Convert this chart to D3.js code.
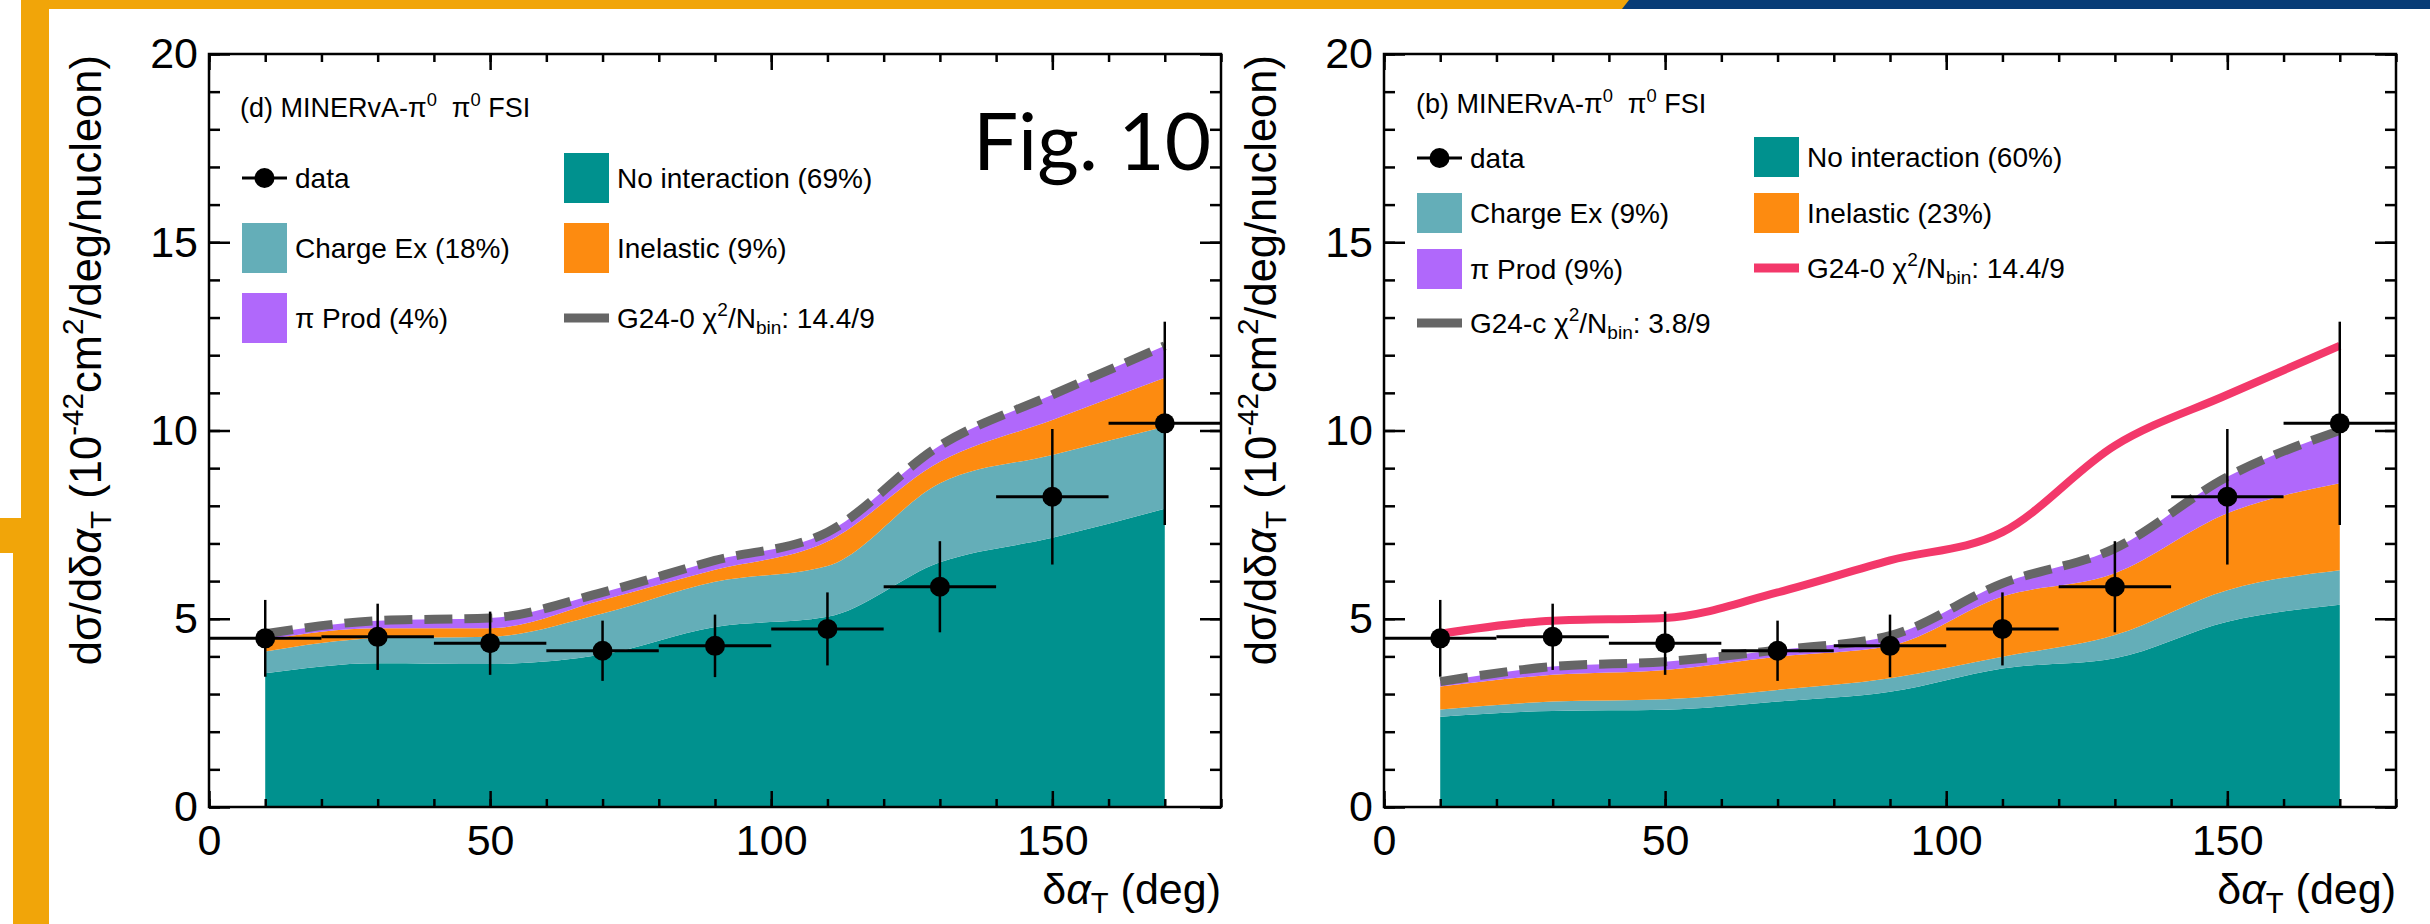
<!DOCTYPE html>
<html>
<head>
<meta charset="utf-8">
<script src="https://cdn.jsdelivr.net/npm/d3@7"></script>
<style>
  body { margin: 0; background: #fff; }
  svg text { font-family: "Liberation Sans", Arial, Helvetica, sans-serif; fill: #000; }
</style>
</head>
<body>
<div id="chart"></div>
<script>
(function() {"use strict";

    // ---- data ----
    var binCenters  = [10, 30, 50, 70, 90, 110, 130, 150, 170];
    var binHalf     = 10;
    var dataValues  = [4.48, 4.52, 4.35, 4.15, 4.28, 4.73, 5.85, 8.24, 10.19];
    var dataErrors  = [1.02, 0.88, 0.84, 0.80, 0.83, 0.97, 1.21, 1.80, 2.70];

    // G24-0 channels, panel (d)
    var g240NoInt    = [3.55, 3.82, 3.80, 4.05, 4.78, 5.05, 6.50, 7.15, 7.92];
    var g240ChargeEx = [0.58, 0.66, 0.72, 1.09, 1.20, 1.35, 2.10, 2.20, 2.18];
    var g240Inel     = [0.32, 0.27, 0.23, 0.36, 0.32, 0.65, 0.57, 0.93, 1.30];
    var g240PiProd   = [0.15, 0.20, 0.27, 0.20, 0.25, 0.25, 0.43, 0.67, 0.85];
    var g240Total    = [4.60, 4.95, 5.02, 5.70, 6.55, 7.30, 9.60, 10.95, 12.25];

    // G24-c channels, panel (b)
    var g24cNoInt    = [2.40, 2.55, 2.58, 2.80, 3.06, 3.68, 3.95, 4.92, 5.37];
    var g24cChargeEx = [0.19, 0.25, 0.28, 0.31, 0.36, 0.31, 0.62, 0.84, 0.92];
    var g24cInel     = [0.61, 0.71, 0.78, 0.88, 0.86, 1.60, 1.64, 2.04, 2.31];
    var g24cPiProd   = [0.13, 0.22, 0.22, 0.18, 0.27, 0.35, 0.66, 0.97, 1.40];
    var g24cTotal    = [3.33, 3.73, 3.86, 4.17, 4.55, 5.94, 6.87, 8.77, 10.00];

    var xMajorTicks = [0, 50, 100, 150];
    var yMajorTicks = [0, 5, 10, 15, 20];
    var xMinorTicks = d3.range(0, 181, 10);
    var yMinorTicks = d3.range(0, 21, 1);

    // colours
    var cNoInt = "#00918e", cChargeEx = "#64aeb8", cInel = "#fd8b10",
        cPiProd = "#b068fb", cGray = "#666666", cRed = "#f3386a";

    var W = 2430, H = 924;
    var svg = d3.select("#chart").append("svg")
        .attr("width", W).attr("height", H)
        .style("display", "block");

    svg.append("rect").attr("width", W).attr("height", H).attr("fill", "#fff");

    // slide decoration: top bar + left bar
    svg.append("rect").attr("x", 21).attr("y", 0).attr("width", 1610).attr("height", 9).attr("fill", "#f1a509");
    svg.append("polygon").attr("points", "1629,0 2430,0 2430,9 1622,9").attr("fill", "#083c76");
    svg.append("rect").attr("x", 21).attr("y", 0).attr("width", 28).attr("height", 518).attr("fill", "#f1a509");
    svg.append("rect").attr("x", 0).attr("y", 518).attr("width", 49).attr("height", 35).attr("fill", "#f1a509");
    svg.append("rect").attr("x", 13).attr("y", 553).attr("width", 36).attr("height", H - 553).attr("fill", "#f1a509");

    // rich text helper: parts = [[text, "sup"|"sub"|"it"|undefined], ...]
    function rich(sel, parts, size) {
        var shift = 0;
        parts.forEach(function(p) {
            var t = sel.append("tspan").text(p[0]);
            var target = 0;
            if (p[1] === "sup") { target = -0.42 * size; t.attr("font-size", size * 0.68); }
            else if (p[1] === "sub") { target = 0.22 * size; t.attr("font-size", size * 0.68); }
            else if (p[1] === "it") { t.attr("font-style", "italic"); }
            if (target !== shift) { t.attr("dy", target - shift); shift = target; }
        });
        return sel;
    }

    var panels = [
        {
            x0: 209, x1: 1221, ylabX: 101,
            comps: [g240NoInt, g240ChargeEx, g240Inel, g240PiProd],
            dashed: g240Total, red: null,
            titleTag: "(d)", titleX: 240, titleY: 117,
            boxH: 50,
            legend: [
                {type: "data", x: 242, y: 178, label: [["data"]]},
                {type: "box", fill: cNoInt, x: 564, y: 178, label: [["No interaction (69%)"]]},
                {type: "box", fill: cChargeEx, x: 242, y: 248, label: [["Charge Ex (18%)"]]},
                {type: "box", fill: cInel, x: 564, y: 248, label: [["Inelastic (9%)"]]},
                {type: "box", fill: cPiProd, x: 242, y: 318, label: [["π Prod (4%)"]]},
                {type: "line", stroke: cGray, x: 564, y: 318,
                    label: [["G24-0 χ"], ["2", "sup"], ["/N"], ["bin", "sub"], [": 14.4/9"]]}
            ]
        },
        {
            x0: 1384, x1: 2396, ylabX: 1276,
            comps: [g24cNoInt, g24cChargeEx, g24cInel, g24cPiProd],
            dashed: g24cTotal, red: g240Total,
            titleTag: "(b)", titleX: 1416, titleY: 113,
            boxH: 40,
            legend: [
                {type: "data", x: 1417, y: 158, label: [["data"]]},
                {type: "box", fill: cNoInt, x: 1754, y: 157, label: [["No interaction (60%)"]]},
                {type: "box", fill: cChargeEx, x: 1417, y: 213, label: [["Charge Ex (9%)"]]},
                {type: "box", fill: cInel, x: 1754, y: 213, label: [["Inelastic (23%)"]]},
                {type: "box", fill: cPiProd, x: 1417, y: 269, label: [["π Prod (9%)"]]},
                {type: "line", stroke: cRed, x: 1754, y: 268,
                    label: [["G24-0 χ"], ["2", "sup"], ["/N"], ["bin", "sub"], [": 14.4/9"]]},
                {type: "line", stroke: cGray, x: 1417, y: 323,
                    label: [["G24-c χ"], ["2", "sup"], ["/N"], ["bin", "sub"], [": 3.8/9"]]}
            ]
        }
    ];

    var yTop = 54, yBot = 807;
    var keys = ["noInt", "chargeEx", "inel", "piProd"];
    var fills = [cNoInt, cChargeEx, cInel, cPiProd];

    panels.forEach(function(p) {
        var x = d3.scaleLinear().domain([0, 180]).range([p.x0, p.x1]);
        var y = d3.scaleLinear().domain([0, 20]).range([yBot, yTop]);
        var g = svg.append("g");

        // stacked channels
        var rows = binCenters.map(function(c, i) {
            var r = {x: c};
            keys.forEach(function(k, j) { r[k] = p.comps[j][i]; });
            return r;
        });
        var series = d3.stack().keys(keys)(rows);
        var area = d3.area()
            .x(function(d) { return x(d.data.x); })
            .y0(function(d) { return y(d[0]); })
            .y1(function(d) { return y(d[1]); })
            .curve(d3.curveMonotoneX);
        g.selectAll("path.band").data(series).enter().append("path")
            .attr("class", "band")
            .attr("d", area)
            .attr("fill", function(d, i) { return fills[i]; });

        var line = d3.line()
            .x(function(d, i) { return x(binCenters[i]); })
            .y(function(d) { return y(d); })
            .curve(d3.curveMonotoneX);

        if (p.red) {
            g.append("path").attr("d", line(p.red))
                .attr("fill", "none").attr("stroke", cRed).attr("stroke-width", 8);
        }
        g.append("path").attr("d", line(p.dashed))
            .attr("fill", "none").attr("stroke", cGray).attr("stroke-width", 9)
            .attr("stroke-dasharray", "28,12");

        // data points
        var pts = g.selectAll("g.pt").data(dataValues).enter().append("g").attr("class", "pt");
        pts.append("line")
            .attr("x1", function(d, i) { return x(binCenters[i] - binHalf); })
            .attr("x2", function(d, i) { return x(binCenters[i] + binHalf); })
            .attr("y1", function(d) { return y(d); })
            .attr("y2", function(d) { return y(d); })
            .attr("stroke", "#000").attr("stroke-width", 3);
        pts.append("line")
            .attr("x1", function(d, i) { return x(binCenters[i]); })
            .attr("x2", function(d, i) { return x(binCenters[i]); })
            .attr("y1", function(d, i) { return y(d - dataErrors[i]); })
            .attr("y2", function(d, i) { return y(d + dataErrors[i]); })
            .attr("stroke", "#000").attr("stroke-width", 2.5);
        pts.append("circle")
            .attr("cx", function(d, i) { return x(binCenters[i]); })
            .attr("cy", function(d) { return y(d); })
            .attr("r", 10).attr("fill", "#000");

        // axes (ROOT style: ticks inside, on all four sides)
        function styleAxis(a) {
            a.select(".domain").remove();
            a.selectAll("line").attr("stroke", "#000").attr("stroke-width", 2.5);
            a.selectAll("text").attr("font-size", 43)
                .attr("font-family", "'Liberation Sans', Arial, Helvetica, sans-serif");
        }
        g.append("g").attr("transform", "translate(0," + yBot + ")")
            .call(d3.axisBottom(x).tickValues(xMinorTicks).tickSize(-8).tickFormat("")).call(styleAxis);
        g.append("g").attr("transform", "translate(0," + yBot + ")")
            .call(d3.axisBottom(x).tickValues(xMajorTicks).tickSize(-16).tickPadding(17).tickFormat(d3.format("d")))
            .call(styleAxis);
        g.append("g").attr("transform", "translate(0," + yTop + ")")
            .call(d3.axisTop(x).tickValues(xMinorTicks).tickSize(-8).tickFormat("")).call(styleAxis);
        g.append("g").attr("transform", "translate(0," + yTop + ")")
            .call(d3.axisTop(x).tickValues(xMajorTicks).tickSize(-16).tickFormat("")).call(styleAxis);
        g.append("g").attr("transform", "translate(" + p.x0 + ",0)")
            .call(d3.axisLeft(y).tickValues(yMinorTicks).tickSize(-11).tickFormat("")).call(styleAxis);
        g.append("g").attr("transform", "translate(" + p.x0 + ",0)")
            .call(d3.axisLeft(y).tickValues(yMajorTicks).tickSize(-21).tickPadding(11).tickFormat(d3.format("d")))
            .call(styleAxis);
        g.append("g").attr("transform", "translate(" + p.x1 + ",0)")
            .call(d3.axisRight(y).tickValues(yMinorTicks).tickSize(-11).tickFormat("")).call(styleAxis);
        g.append("g").attr("transform", "translate(" + p.x1 + ",0)")
            .call(d3.axisRight(y).tickValues(yMajorTicks).tickSize(-21).tickFormat("")).call(styleAxis);

        g.append("rect")
            .attr("x", p.x0).attr("y", yTop)
            .attr("width", p.x1 - p.x0).attr("height", yBot - yTop)
            .attr("fill", "none").attr("stroke", "#000").attr("stroke-width", 2.5);

        // axis titles
        rich(g.append("text").attr("x", p.x1).attr("y", 904)
                .attr("text-anchor", "end").attr("font-size", 43),
            [["δ"], ["α", "it"], ["T", "sub"], [" (deg)"]], 43);
        rich(g.append("text")
                .attr("transform", "translate(" + p.ylabX + "," + (yTop + 1) + ") rotate(-90)")
                .attr("text-anchor", "end").attr("font-size", 43.5),
            [["dσ/dδ"], ["α", "it"], ["T", "sub"], [" (10"], ["-42", "sup"], ["cm"], ["2", "sup"], ["/deg/nucleon)"]], 43.5);

        // legend
        rich(g.append("text").attr("x", p.titleX).attr("y", p.titleY)
                .attr("font-size", 27).style("white-space", "pre"),
            [[p.titleTag + " MINERvA-π"], ["0", "sup"], ["  π"], ["0", "sup"], [" FSI"]], 27);

        p.legend.forEach(function(e) {
            if (e.type === "box") {
                g.append("rect").attr("x", e.x).attr("y", e.y - p.boxH / 2)
                    .attr("width", 45).attr("height", p.boxH).attr("fill", e.fill);
            } else if (e.type === "line") {
                g.append("line").attr("x1", e.x).attr("x2", e.x + 45)
                    .attr("y1", e.y).attr("y2", e.y)
                    .attr("stroke", e.stroke).attr("stroke-width", 9);
            } else {
                g.append("line").attr("x1", e.x).attr("x2", e.x + 45)
                    .attr("y1", e.y).attr("y2", e.y)
                    .attr("stroke", "#000").attr("stroke-width", 3);
                g.append("circle").attr("cx", e.x + 22.5).attr("cy", e.y).attr("r", 10).attr("fill", "#000");
            }
            rich(g.append("text").attr("x", e.x + 53).attr("y", e.y + 10).attr("font-size", 28),
                e.label, 28);
        });
    });

    // slide annotation
    svg.append("text").attr("x", 973).attr("y", 170)
        .attr("font-size", 80).style("font-family", "Lato, 'Open Sans', sans-serif")
        .text("Fig. 10");

})();
</script>
</body>
</html>
